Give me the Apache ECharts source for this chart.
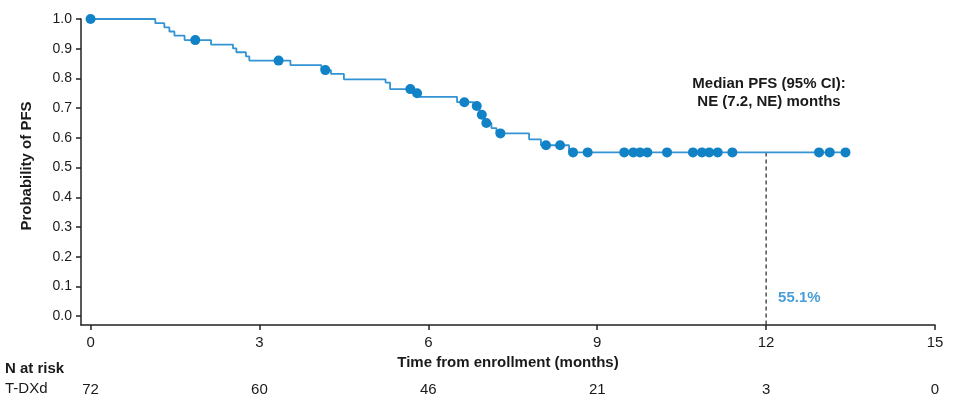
<!DOCTYPE html>
<html>
<head>
<meta charset="utf-8">
<script src="https://cdn.jsdelivr.net/npm/echarts@6/dist/echarts.min.js"></script>
<style>
html,body{margin:0;padding:0;background:#fff;}
#chart{width:960px;height:408px;}
</style>
</head>
<body>
<div id="chart"></div>
<script>
// Kaplan-Meier step curve (time in months, survival probability)
const stepTimes = [0, 1.15, 1.31, 1.40, 1.49, 1.67, 2.14, 2.53, 2.59, 2.76, 2.82, 3.55, 4.10, 4.27, 4.50, 5.24, 5.32, 5.74, 5.84, 6.51, 6.80, 6.91, 6.99, 7.12, 7.21, 7.79, 8.00, 8.50, 13.41];
const stepSurv  = [1.0, 0.986, 0.972, 0.958, 0.944, 0.929, 0.914, 0.901, 0.888, 0.874, 0.860, 0.845, 0.828, 0.815, 0.797, 0.786, 0.764, 0.750, 0.738, 0.720, 0.707, 0.678, 0.650, 0.633, 0.615, 0.595, 0.575, 0.551, 0.551];
// Censoring marks
const censorTimes = [0, 1.86, 3.34, 4.17, 5.68, 5.80, 6.64, 6.86, 6.95, 7.03, 7.28, 8.09, 8.34, 8.57, 8.83, 9.48, 9.64, 9.76, 9.89, 10.24, 10.70, 10.86, 10.99, 11.14, 11.40, 12.94, 13.13, 13.41];
const censorSurv  = [1.0, 0.929, 0.860, 0.828, 0.764, 0.750, 0.720, 0.707, 0.678, 0.650, 0.615, 0.575, 0.575, 0.551, 0.551, 0.551, 0.551, 0.551, 0.551, 0.551, 0.551, 0.551, 0.551, 0.551, 0.551, 0.551, 0.551, 0.551];
// Axis ticks
const xTicks = [0, 3, 6, 9, 12, 15];
const yTicks = [0, 0.1, 0.2, 0.3, 0.4, 0.5, 0.6, 0.7, 0.8, 0.9, 1.0];
// Number at risk
const riskTimes = [0, 3, 6, 9, 12, 15];
const riskCounts = [72, 60, 46, 21, 3, 0];
// Landmark at 12 months
const landmarkTime = 12;
const landmarkSurv = 0.551;
const landmarkLabel = '55.1%';

const X_MIN = -0.17, X_MAX = 15, Y_MIN = -0.03, Y_MAX = 1.0;
const BLUE_LINE = '#3393d4';
const BLUE_DOT = '#1282c6';
const FONT = '"Liberation Sans", Arial, sans-serif';
const TXT = '#1a1a1a';

const chart = echarts.init(document.getElementById('chart'), null, {renderer: 'canvas'});
const curve = stepTimes.map((t, i) => [t, stepSurv[i]]);
const censors = censorTimes.map((t, i) => [t, censorSurv[i]]);
const riskMap = {};
riskTimes.forEach((t, i) => { riskMap[t] = riskCounts[i]; });

chart.setOption({
  animation: false,
  backgroundColor: '#fff',
  textStyle: {fontFamily: FONT},
  grid: [
    {left: 81, right: 25, top: 19, bottom: 408 - 325, containLabel: false},
    {left: 81, right: 25, top: 380, height: 1, containLabel: false}
  ],
  xAxis: [
    {
      type: 'value', gridIndex: 0, min: X_MIN, max: X_MAX,
      name: 'Time from enrollment (months)', nameLocation: 'middle', nameGap: 25,
      nameTextStyle: {fontFamily: FONT, fontSize: 15, fontWeight: 'bold', color: TXT},
      axisLine: {show: true, onZero: false, lineStyle: {color: '#222', width: 1.5}},
      axisTick: {show: true, length: 5, customValues: xTicks, lineStyle: {color: '#222', width: 1.5}},
      axisLabel: {customValues: xTicks, margin: 10, fontSize: 15, color: TXT, fontFamily: FONT},
      splitLine: {show: false}
    },
    {
      type: 'value', gridIndex: 1, min: X_MIN, max: X_MAX,
      axisLine: {show: false, onZero: false}, axisTick: {show: false}, splitLine: {show: false},
      axisLabel: {customValues: riskTimes, margin: 1, fontSize: 15, color: TXT, fontFamily: FONT,
        formatter: v => String(riskMap[v] !== undefined ? riskMap[v] : '')}
    }
  ],
  yAxis: [
    {
      type: 'value', gridIndex: 0, min: Y_MIN, max: Y_MAX,
      name: 'Probability of PFS', nameLocation: 'middle', nameGap: 47,
      nameTextStyle: {fontFamily: FONT, fontSize: 15, fontWeight: 'bold', color: TXT, padding: [0, 0, 0, 12]},
      axisLine: {show: true, onZero: false, lineStyle: {color: '#222', width: 1.5}},
      axisTick: {show: true, length: 5, customValues: yTicks, lineStyle: {color: '#222', width: 1.5}},
      axisLabel: {customValues: yTicks, margin: 9, fontSize: 14, color: TXT, fontFamily: FONT,
        formatter: v => v.toFixed(1)},
      splitLine: {show: false}
    },
    {type: 'value', gridIndex: 1, show: false, min: 0, max: 1}
  ],
  series: [
    {
      type: 'line', xAxisIndex: 0, yAxisIndex: 0, data: curve, step: 'end',
      showSymbol: false, symbol: 'none',
      lineStyle: {color: BLUE_LINE, width: 1.8}, z: 2
    },
    {
      type: 'scatter', xAxisIndex: 0, yAxisIndex: 0, data: censors,
      symbol: 'circle', symbolSize: 10,
      itemStyle: {color: BLUE_DOT, opacity: 1}, z: 3
    },
    {
      type: 'line', xAxisIndex: 0, yAxisIndex: 0,
      data: [[landmarkTime, landmarkSurv], [landmarkTime, Y_MIN]],
      showSymbol: false, symbol: 'none',
      lineStyle: {color: '#222', width: 1.2, type: [4, 3]}, z: 1
    },
    {
      type: 'scatter', xAxisIndex: 0, yAxisIndex: 0,
      data: [[landmarkTime, 0.06]], symbolSize: 0,
      label: {show: true, position: 'right', distance: 12, formatter: landmarkLabel,
        color: '#1a86cc', fontWeight: 'bold', fontSize: 15, fontFamily: FONT}
    }
  ],
  graphic: [
    {type: 'text', x: 769, y: 76, style: {text: 'Median PFS (95% CI):', fill: TXT, font: 'bold 15px ' + FONT, textAlign: 'center'}},
    {type: 'text', x: 769, y: 94, style: {text: 'NE (7.2, NE) months', fill: TXT, font: 'bold 15px ' + FONT, textAlign: 'center'}},
    {type: 'text', x: 5, y: 361, style: {text: 'N at risk', fill: TXT, font: 'bold 15px ' + FONT}},
    {type: 'text', x: 5, y: 381, style: {text: 'T-DXd', fill: TXT, font: '15px ' + FONT}}
  ]
});
</script>
</body>
</html>
